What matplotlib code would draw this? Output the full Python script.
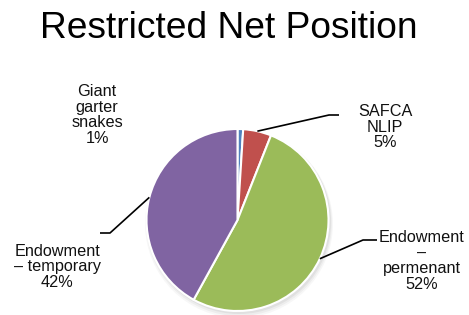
import numpy as np
import matplotlib
matplotlib.use("Agg")
import matplotlib.pyplot as plt

categories = ["Giant\ngarter\nsnakes", "SAFCA\nNLIP", "Endowment\n–\npermenant", "Endowment\n– temporary"]
values = [1, 5, 52, 42]
pct_labels = ["1%", "5%", "52%", "42%"]
colors = ["#4F81BD", "#C0504D", "#9BBB59", "#8064A2"]

W, H = 469, 315
fig = plt.figure(figsize=(W / 100, H / 100), dpi=100)
ax = fig.add_axes([0, 0, 1, 1])
ax.set_xlim(0, W)
ax.set_ylim(0, H)
ax.set_aspect("equal")
ax.axis("off")

cx, cy, r = 237.5, H - 220, 91

# soft shadow
for i, a in enumerate([0.05, 0.04, 0.03]):
    ax.add_patch(plt.Circle((cx + 1.5, cy - 2 - i), r + 1 + i, color="black", alpha=a, lw=0, zorder=1))

wedges, _ = ax.pie(values, colors=colors, startangle=90, counterclock=False,
                   center=(cx, cy), radius=r, frame=True,
                   wedgeprops=dict(edgecolor="white", linewidth=1.5, zorder=2))
ax.set_xlim(0, W)
ax.set_ylim(0, H)
ax.axis("off")

fig.text(228.5 / W, 1 - 38 / H, "Restricted Net Position", ha="center", va="baseline",
         fontsize=26.7, family="Liberation Sans")

# label layout: (text center x, text center y, elbow x, elbow y, end x) in px from top
layout = [
    (97, 115, None, None, None),
    (385, 127, 329, 115, 339),
    (422, 261, 363, 240, 377),
    (57, 267, 110, 233, 100),
]

for w, cat, pct, (tx, ty, ex, ey, hx) in zip(wedges, categories, pct_labels, layout):
    ax.text(tx, H - ty, cat + "\n" + pct, ha="center", va="center", fontsize=11.7,
            family="Liberation Sans", linespacing=1.08, color="#111111")
    if ex is not None:
        ang = np.deg2rad((w.theta1 + w.theta2) / 2)
        sx, sy = w.center[0] + w.r * np.cos(ang), w.center[1] + w.r * np.sin(ang)
        ax.plot([sx, ex, hx], [sy, H - ey, H - ey], color="black", lw=1.2, zorder=3,
                solid_capstyle="butt")

fig.savefig("out.png", dpi=100)
